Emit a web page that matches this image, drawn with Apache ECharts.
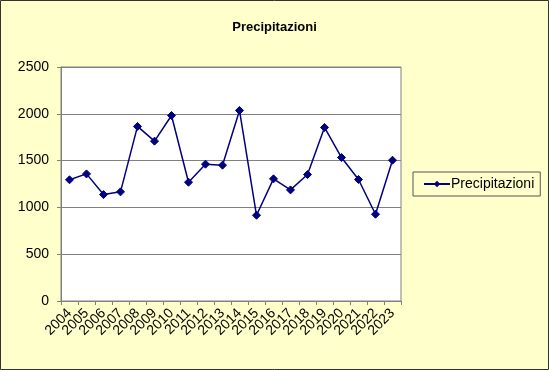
<!DOCTYPE html>
<html><head><meta charset="utf-8">
<script src="https://cdn.jsdelivr.net/npm/echarts@6/dist/echarts.min.js"></script>
<style>html,body{margin:0;padding:0;background:#FFFFCC;}#c{width:549px;height:370px;box-sizing:border-box;}</style>
</head><body><div id="c"></div>
<script>
const years = ['2004','2005','2006','2007','2008','2009','2010','2011','2012','2013','2014','2015','2016','2017','2018','2019','2020','2021','2022','2023'];
const precip = [1295,1358,1137,1166,1865,1708,1982,1269,1462,1451,2036,916,1305,1187,1351,1854,1533,1298,927,1504];
const seriesName = 'Precipitazioni';
const titleText = 'Precipitazioni';

const chart = echarts.init(document.getElementById('c'));
const font = 'Liberation Sans, Arial, sans-serif';
chart.setOption({
  backgroundColor: '#FFFFCC',
  animation: false,
  textStyle: {fontFamily: font},
  title: {text: titleText, left: 'center', top: 16, textStyle: {fontSize: 13, fontWeight: 'bold', color: '#000', fontFamily: font}},
  graphic: [{type: 'rect', shape: {x: 0.5, y: 0.5, width: 548, height: 369}, style: {fill: 'none', stroke: '#333', lineWidth: 1}, z: 100}],
  legend: {
    left: 413, top: 172, orient: 'vertical',
    padding: [5, 6, 5, 10],
    itemWidth: 26, itemHeight: 8, itemGap: 0,
    borderColor: '#555', borderWidth: 1, backgroundColor: '#FFFFCC',
    textStyle: {fontSize: 14, color: '#000', fontFamily: font, padding: [0,0,0,-4]},
    data: [seriesName]
  },
  grid: {left: 61, right: 148, top: 67, bottom: 69, show: true, backgroundColor: '#fff', borderColor: '#808080', borderWidth: 1},
  xAxis: {
    type: 'category', data: years, boundaryGap: true,
    axisLine: {lineStyle: {color: '#808080', width: 1}},
    axisTick: {show: true, length: 4, lineStyle: {color: '#808080'}},
    axisLabel: {rotate: 45, fontSize: 14, color: '#000', margin: 10, interval: 0, fontFamily: font}
  },
  yAxis: {
    type: 'value', min: 0, max: 2500, interval: 500,
    axisLine: {show: true, lineStyle: {color: '#808080'}},
    axisTick: {show: true, length: 4, lineStyle: {color: '#808080'}},
    splitLine: {lineStyle: {color: '#808080', width: 1}},
    axisLabel: {fontSize: 14, color: '#000', margin: 12, fontFamily: font, formatter: v => String(v)}
  },
  series: [{
    name: seriesName, type: 'line', data: precip,
    symbol: 'diamond', symbolSize: 8, showSymbol: true,
    lineStyle: {color: '#000080', width: 1.5},
    itemStyle: {color: '#000080', borderColor: '#000080'}
  }]
});
</script></body></html>
